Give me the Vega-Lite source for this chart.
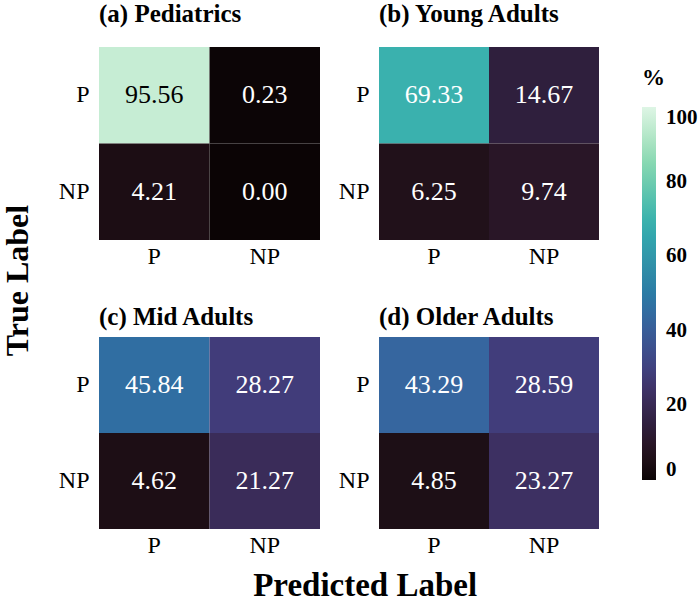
{
  "$schema": "https://vega.github.io/schema/vega-lite/v6.json",
  "padding": {"left": 2, "top": 2, "right": 0, "bottom": 0},
  "background": "white",
  "data": {
    "values": [
      {"panel": "a", "actual": "P", "predicted": "P", "value": 95.56},
      {"panel": "a", "actual": "P", "predicted": "NP", "value": 0.23},
      {"panel": "a", "actual": "NP", "predicted": "P", "value": 4.21},
      {"panel": "a", "actual": "NP", "predicted": "NP", "value": 0.0},
      {"panel": "b", "actual": "P", "predicted": "P", "value": 69.33},
      {"panel": "b", "actual": "P", "predicted": "NP", "value": 14.67},
      {"panel": "b", "actual": "NP", "predicted": "P", "value": 6.25},
      {"panel": "b", "actual": "NP", "predicted": "NP", "value": 9.74},
      {"panel": "c", "actual": "P", "predicted": "P", "value": 45.84},
      {"panel": "c", "actual": "P", "predicted": "NP", "value": 28.27},
      {"panel": "c", "actual": "NP", "predicted": "P", "value": 4.62},
      {"panel": "c", "actual": "NP", "predicted": "NP", "value": 21.27},
      {"panel": "d", "actual": "P", "predicted": "P", "value": 43.29},
      {"panel": "d", "actual": "P", "predicted": "NP", "value": 28.59},
      {"panel": "d", "actual": "NP", "predicted": "P", "value": 4.85},
      {"panel": "d", "actual": "NP", "predicted": "NP", "value": 23.27}
    ]
  },
  "title": {
    "text": "Predicted Label",
    "orient": "bottom",
    "anchor": "middle",
    "frame": "bounds",
    "font": "Liberation Serif",
    "fontSize": 33,
    "fontWeight": "bold",
    "color": "black",
    "baseline": "top",
    "offset": 11,
    "dx": 15
  },
  "config": {
    "view": {"stroke": null},
    "font": "Liberation Serif",
    "axis": {
      "labelFont": "Liberation Serif",
      "labelFontSize": 24,
      "labelColor": "black",
      "ticks": false,
      "domain": false,
      "grid": false,
      "labelAngle": 0,
      "title": null
    },
    "axisX": {"labelPadding": 4, "minExtent": 30, "maxExtent": 30},
    "axisY": {"labelPadding": 10, "minExtent": 40, "maxExtent": 40},
    "title": {
      "font": "Liberation Serif",
      "fontSize": 25,
      "fontWeight": "bold",
      "color": "black",
      "anchor": "start",
      "frame": "group",
      "baseline": "alphabetic"
    },
    "concat": {"spacing": 18}
  },
  "hconcat": [
    {
      "title": {
        "text": "True Label",
        "orient": "left",
        "anchor": "middle",
        "frame": "bounds",
        "fontSize": 32,
        "baseline": "alphabetic",
        "offset": -2
      },
      "spacing": 35,
      "vconcat": [
        {
          "hconcat": [
            {
              "title": {"text": "(a) Pediatrics", "offset": 20},
              "width": 221,
              "height": 193,
              "transform": [{"filter": "datum.panel == 'a'"}],
              "encoding": {
                "x": {"field": "predicted", "type": "nominal", "sort": ["P", "NP"]},
                "y": {"field": "actual", "type": "nominal", "sort": ["P", "NP"]}
              },
              "layer": [
                {
                  "mark": {"type": "rect", "strokeWidth": 0},
                  "encoding": {
                    "color": {
                      "field": "value",
                      "type": "quantitative",
                      "scale": {
                        "domain": [0, 14.2857, 28.5714, 42.8571, 57.1429, 71.4286, 85.7143, 100],
                        "range": ["#0b0405", "#2e1e3b", "#413d7b", "#37659e", "#348fa7", "#40b7ad", "#8bdab2", "#def5e5"]
                      },
                      "legend": {
                        "title": "%",
                        "orient": "none",
                        "direction": "vertical",
                        "legendX": 543,
                        "legendY": 20,
                        "gradientLength": 373,
                        "gradientThickness": 14,
                        "gradientStrokeWidth": 0,
                        "values": [0, 20, 40, 60, 80, 100],
                        "titleFont": "Liberation Serif",
                        "titleFontSize": 23,
                        "titleFontWeight": "bold",
                        "titleColor": "black",
                        "titlePadding": 17,
                        "titleAnchor": "start",
                        "labelFont": "Liberation Serif",
                        "labelFontSize": 21,
                        "labelFontWeight": "bold",
                        "labelColor": "black",
                        "labelOffset": 10,
                        "labelOverlap": false
                      }
                    }
                  }
                },
                {
                  "mark": {"type": "text", "font": "Liberation Serif", "fontSize": 26},
                  "encoding": {
                    "text": {"field": "value", "type": "quantitative", "format": ".2f"},
                    "color": {"condition": {"test": "datum.value > 80", "value": "black"}, "value": "white"}
                  }
                }
              ]
            },
            {
              "title": {"text": "(b) Young Adults", "offset": 20},
              "width": 220,
              "height": 193,
              "transform": [{"filter": "datum.panel == 'b'"}],
              "encoding": {
                "x": {"field": "predicted", "type": "nominal", "sort": ["P", "NP"]},
                "y": {"field": "actual", "type": "nominal", "sort": ["P", "NP"]}
              },
              "layer": [
                {
                  "mark": {"type": "rect", "strokeWidth": 0},
                  "encoding": {"color": {"field": "value", "type": "quantitative"}}
                },
                {
                  "mark": {"type": "text", "font": "Liberation Serif", "fontSize": 26},
                  "encoding": {
                    "text": {"field": "value", "type": "quantitative", "format": ".2f"},
                    "color": {"condition": {"test": "datum.value > 80", "value": "black"}, "value": "white"}
                  }
                }
              ]
            }
          ]
        },
        {
          "hconcat": [
            {
              "title": {"text": "(c) Mid Adults", "offset": 7},
              "width": 221,
              "height": 192,
              "transform": [{"filter": "datum.panel == 'c'"}],
              "encoding": {
                "x": {"field": "predicted", "type": "nominal", "sort": ["P", "NP"]},
                "y": {"field": "actual", "type": "nominal", "sort": ["P", "NP"]}
              },
              "layer": [
                {
                  "mark": {"type": "rect", "strokeWidth": 0},
                  "encoding": {"color": {"field": "value", "type": "quantitative"}}
                },
                {
                  "mark": {"type": "text", "font": "Liberation Serif", "fontSize": 26},
                  "encoding": {
                    "text": {"field": "value", "type": "quantitative", "format": ".2f"},
                    "color": {"condition": {"test": "datum.value > 80", "value": "black"}, "value": "white"}
                  }
                }
              ]
            },
            {
              "title": {"text": "(d) Older Adults", "offset": 7},
              "width": 220,
              "height": 192,
              "transform": [{"filter": "datum.panel == 'd'"}],
              "encoding": {
                "x": {"field": "predicted", "type": "nominal", "sort": ["P", "NP"]},
                "y": {"field": "actual", "type": "nominal", "sort": ["P", "NP"]}
              },
              "layer": [
                {
                  "mark": {"type": "rect", "strokeWidth": 0},
                  "encoding": {"color": {"field": "value", "type": "quantitative"}}
                },
                {
                  "mark": {"type": "text", "font": "Liberation Serif", "fontSize": 26},
                  "encoding": {
                    "text": {"field": "value", "type": "quantitative", "format": ".2f"},
                    "color": {"condition": {"test": "datum.value > 80", "value": "black"}, "value": "white"}
                  }
                }
              ]
            }
          ]
        }
      ]
    }
  ]
}
